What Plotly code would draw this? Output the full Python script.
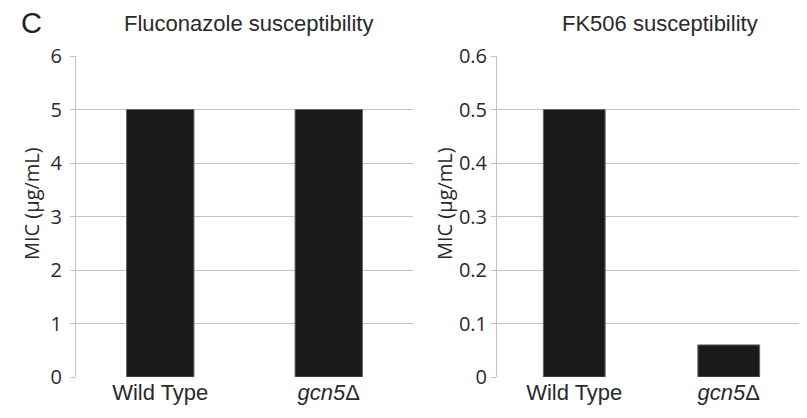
import plotly.graph_objects as go

categories = ["Wild Type", "<i>gcn5</i>Δ"]
fluconazole_mic = [5, 5]
fk506_mic = [0.5, 0.06]
flu_ticks = [0, 1, 2, 3, 4, 5, 6]
fk_ticks = [0, 0.1, 0.2, 0.3, 0.4, 0.5, 0.6]
fk_tick_labels = ["0", "0.1", "0.2", "0.3", "0.4", "0.5", "0.6"]

W, H = 807, 418
OFF = 8  # default page body margin


def px(x):
    return (x - OFF) / W


def py(y):
    return 1 - (y - OFF) / H


grid = "#c4c4c4"
tick_font = dict(family="Open Sans, Noto Sans, sans-serif", size=20, color="#2a2a2a")
ytitle_font = dict(family="Open Sans, Noto Sans, sans-serif", size=20, color="#2a2a2a")
cat_font = dict(family="Liberation Sans, Arial, sans-serif", size=22, color="#2a2a2a")

fig = go.Figure()
bar_style = dict(marker=dict(color="#1a1a1a", line=dict(color="#666666", width=1)), width=0.4, showlegend=False)
fig.add_trace(go.Bar(x=categories, y=fluconazole_mic, xaxis="x", yaxis="y", **bar_style))
fig.add_trace(go.Bar(x=categories, y=fk506_mic, xaxis="x2", yaxis="y2", **bar_style))

ydom = [py(377), py(56)]
xcommon = dict(showgrid=False, showline=False, ticks="", tickfont=cat_font, automargin=False, zeroline=False)
ycommon = dict(showgrid=True, gridcolor=grid, gridwidth=1, showline=True, linecolor=grid, linewidth=1,
               ticks="outside", ticklen=5, tickcolor=grid, tickfont=tick_font, automargin=False,
               zeroline=False, domain=ydom)

fig.update_layout(
    width=W, height=H,
    margin=dict(l=0, r=0, t=0, b=0),
    paper_bgcolor="white", plot_bgcolor="white",
    xaxis=dict(domain=[px(76), px(413)], anchor="y", **xcommon),
    xaxis2=dict(domain=[px(497), px(806)], anchor="y2", **xcommon),
    yaxis=dict(range=[0, 6], tickvals=flu_ticks, anchor="x", ticklabelstandoff=4, **ycommon),
    yaxis2=dict(range=[0, 0.6], tickvals=fk_ticks, ticktext=fk_tick_labels, anchor="x2",
                ticklabelstandoff=0, **ycommon),
    bargap=0.6,
)

ann_font = dict(family="Liberation Sans, Arial, sans-serif", size=22, color="#2a2a2a")
fig.add_annotation(text="C", x=px(19), y=py(23), xref="paper", yref="paper", xanchor="left", yanchor="middle",
                   showarrow=False, font=dict(family="Liberation Sans, Arial, sans-serif", size=29, color="#222222"))
fig.add_annotation(text="Fluconazole susceptibility", x=px(248), y=py(24), xref="paper", yref="paper",
                   xanchor="center", yanchor="middle", showarrow=False, font=ann_font)
fig.add_annotation(text="FK506 susceptibility", x=px(660), y=py(24), xref="paper", yref="paper",
                   xanchor="center", yanchor="middle", showarrow=False, font=ann_font)
for xc in (31, 444):
    fig.add_annotation(text="MIC (µg/mL)", x=px(xc), y=py(204), xref="paper", yref="paper",
                       xanchor="center", yanchor="middle", textangle=-90, showarrow=False, font=ytitle_font)

fig.write_html("out.html")
